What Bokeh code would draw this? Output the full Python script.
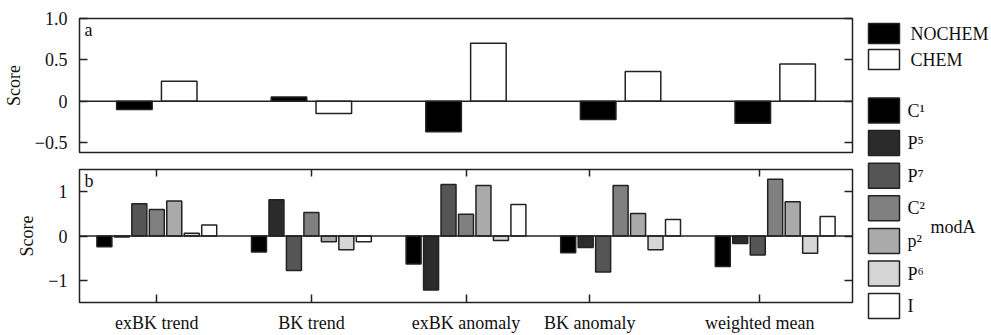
import numpy as np
from bokeh.plotting import figure
from bokeh.layouts import row, column
from bokeh.models import Range1d, LinearAxis, FixedTicker, Span, Label
from bokeh.embed import file_html
from bokeh.resources import INLINE

# ---------------- data ----------------
categories = ["exBK trend", "BK trend", "exBK anomaly", "BK anomaly", "weighted mean"]
category_label_pos = [0.0, 1.0, 2.0, 2.8, 3.9]

nochem = [-0.10, 0.05, -0.37, -0.22, -0.265]
chem = [0.24, -0.15, 0.70, 0.36, 0.45]

moda_names = ["C¹", "P⁵", "P⁷", "C²", "p²", "P⁶", "I"]
moda_colors = ["#000000", "#2b2b2b", "#555555", "#808080", "#aaaaaa", "#d6d6d6", "#ffffff"]
c1_vals = [-0.24, -0.36, -0.63, -0.38, -0.69]
p5_vals = [-0.02, 0.82, -1.22, -0.26, -0.17]
p7_vals = [0.73, -0.78, 1.16, -0.81, -0.43]
c2_vals = [0.60, 0.53, 0.49, 1.14, 1.28]
p2_vals = [0.79, -0.13, 1.14, 0.51, 0.77]
p6_vals = [0.06, -0.31, -0.10, -0.31, -0.39]
i_vals = [0.25, -0.13, 0.71, 0.37, 0.44]
moda_series = [c1_vals, p5_vals, p7_vals, c2_vals, p2_vals, p6_vals, i_vals]

a_ticks = [-0.5, 0.0, 0.5, 1.0]
a_tick_labels = ["−0.5", "0", "0.5", "1.0"]
b_ticks = [-1.0, 0.0, 1.0]
b_tick_labels = ["−1", "0", "1"]

# ---------------- style ----------------
FONT = "Liberation Serif"
FS = "18px"
EDGE = "#222222"
W_LEFT = 857


def style_frame(p):
    p.grid.grid_line_color = None
    p.outline_line_color = EDGE
    p.outline_line_width = 1.5
    p.background_fill_color = "white"
    p.border_fill_color = "white"


def style_axis(ax, show_labels=True):
    ax.axis_line_color = None
    ax.major_tick_in = 8
    ax.major_tick_out = 0
    ax.major_tick_line_color = EDGE
    ax.major_tick_line_width = 1.5
    ax.minor_tick_line_color = None
    ax.major_label_text_font = FONT
    ax.axis_label_text_font = FONT
    ax.axis_label_text_font_style = "normal"
    ax.axis_label_text_font_size = FS
    ax.axis_label_text_color = "#111111"
    if show_labels:
        ax.major_label_text_font_size = FS
        ax.major_label_text_color = "#111111"
        ax.major_label_standoff = 12
    else:
        ax.major_label_text_font_size = "0px"
        ax.major_label_text_color = None
        ax.major_label_standoff = 0


x = np.arange(len(categories))

# ---------------- panel a ----------------
pa = figure(width=W_LEFT, height=160, x_range=Range1d(-0.5, 4.5), y_range=Range1d(-0.62, 1.0),
            x_axis_location=None, output_backend="svg", toolbar_location=None,
            min_border_left=73, min_border_right=5, min_border_top=18, min_border_bottom=8)
style_frame(pa)
ya = pa.yaxis[0]
ya.ticker = FixedTicker(ticks=a_ticks)
ya.major_label_overrides = dict(zip(a_ticks, a_tick_labels))
ya.axis_label = "Score"
ya.axis_label_standoff = 8
style_axis(ya)
ra = LinearAxis(ticker=FixedTicker(ticks=a_ticks))
style_axis(ra, show_labels=False)
pa.add_layout(ra, "right")

pa.add_layout(Span(location=0, dimension="width", line_color=EDGE, line_width=1.5))
pa.vbar(x=x - 0.145, top=nochem, bottom=0, width=0.23, fill_color="#000000",
        line_color=EDGE, line_width=1.5)
pa.vbar(x=x + 0.145, top=chem, bottom=0, width=0.23, fill_color="#ffffff",
        line_color=EDGE, line_width=1.5)
pa.add_layout(Label(x=-0.5, y=1.0, x_offset=5, y_offset=-1, text="a", text_baseline="top",
                    text_font=FONT, text_font_size=FS, text_color="#111111"))

# ---------------- panel b ----------------
pb = figure(width=W_LEFT, height=175, x_range=Range1d(-0.5, 4.5), y_range=Range1d(-1.5, 1.5),
            output_backend="svg", toolbar_location=None,
            min_border_left=73, min_border_right=5, min_border_top=9, min_border_bottom=32)
style_frame(pb)
yb = pb.yaxis[0]
yb.ticker = FixedTicker(ticks=b_ticks)
yb.major_label_overrides = dict(zip(b_ticks, b_tick_labels))
yb.axis_label = "Score"
yb.axis_label_standoff = 8
style_axis(yb)
rb = LinearAxis(ticker=FixedTicker(ticks=b_ticks))
style_axis(rb, show_labels=False)
pb.add_layout(rb, "right")

xb = pb.xaxis[0]
xb.ticker = FixedTicker(ticks=category_label_pos)
xb.major_label_overrides = dict(zip(category_label_pos, categories))
style_axis(xb)
xb.major_label_standoff = 10
tb = LinearAxis(ticker=FixedTicker(ticks=category_label_pos))
style_axis(tb, show_labels=False)
tb.major_tick_in = 7
pb.add_layout(tb, "above")

pb.add_layout(Span(location=0, dimension="width", line_color=EDGE, line_width=1.5))
nser = len(moda_series)
for k, (vals, col) in enumerate(zip(moda_series, moda_colors)):
    pb.vbar(x=x + (k - (nser - 1) / 2) * 0.113, top=vals, bottom=0, width=0.097,
            fill_color=col, line_color=EDGE, line_width=1.5)
pb.add_layout(Label(x=-0.5, y=1.5, x_offset=5, y_offset=-1, text="b", text_baseline="top",
                    text_font=FONT, text_font_size=FS, text_color="#111111"))

# ---------------- legend ----------------
pl = figure(width=134, height=335, x_range=Range1d(0, 134), y_range=Range1d(335, 0),
            output_backend="svg", toolbar_location=None,
            min_border=0, x_axis_location=None, y_axis_location=None)
pl.grid.grid_line_color = None
pl.outline_line_color = None

sw_x, sw_w = 26.5, 31
txt_x = 53
# NOCHEM / CHEM
ab_names = ["NOCHEM", "CHEM"]
ab_colors = ["#000000", "#ffffff"]
ab_y = [33 + 26 * i for i in range(2)]
pl.rect(x=[sw_x] * 2, y=ab_y, width=sw_w, height=20, fill_color=ab_colors,
        line_color=EDGE, line_width=1.5)
pl.text(x=[txt_x] * 2, y=ab_y, text=ab_names, text_baseline="middle",
        text_font={"value": FONT}, text_font_size={"value": FS}, text_color="#111111")
# modA
m_y = [110 + 32.6 * i for i in range(len(moda_names))]
pl.rect(x=[sw_x] * len(moda_names), y=m_y, width=sw_w, height=25, fill_color=moda_colors,
        line_color=EDGE, line_width=1.5)
pl.text(x=[txt_x - 3] * len(moda_names), y=m_y, text=moda_names, text_baseline="middle",
        text_font={"value": FONT}, text_font_size={"value": FS}, text_color="#111111")
pl.text(x=[73], y=[226], text=["modA"], text_baseline="middle",
        text_font={"value": FONT}, text_font_size={"value": FS}, text_color="#111111")

layout = row(column(pa, pb), pl)
open("out.html", "w").write(file_html(layout, INLINE))
